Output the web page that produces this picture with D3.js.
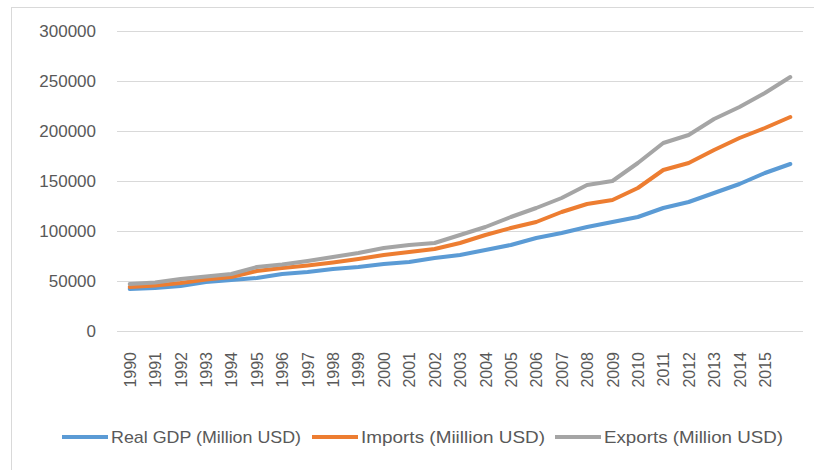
<!DOCTYPE html>
<html>
<head>
<meta charset="utf-8">
<script src="https://cdn.jsdelivr.net/npm/d3@7"></script>
<style>
  html, body { margin: 0; padding: 0; background: #fff; }
  svg { display: block; font-family: "Liberation Sans", Arial, sans-serif; }
</style>
</head>
<body>
<svg id="chart" width="814" height="470"></svg>
<script>
// Years on the category axis (the final point carries no label)
const years = ["1990","1991","1992","1993","1994","1995","1996","1997","1998","1999",
  "2000","2001","2002","2003","2004","2005","2006","2007","2008","2009",
  "2010","2011","2012","2013","2014","2015",""];

const realGdp = [42000,43000,45000,49000,51000,53000,57000,59000,62000,64000,
  67000,69000,73000,76000,81000,86000,93000,98000,104000,109000,
  114000,123000,129000,138000,147000,158000,167000];

const imports = [44000,45500,48000,51500,54000,60000,63000,65500,68500,72000,
  76000,79000,82000,88000,96000,103000,109000,119000,127000,131000,
  143000,161000,168000,181000,193000,203000,214000];

const exports_ = [47000,48500,52000,54500,57000,64000,66500,70000,74000,78000,
  83000,86000,88000,96000,104000,114000,123000,133000,146000,150000,
  168000,188000,196000,212000,224000,238000,254000];

const yTicks = [0,50000,100000,150000,200000,250000,300000];

const seriesNames = ["Real GDP (Million USD)", "Imports (Miillion USD)", "Exports (Million USD)"];
const seriesColors = ["#5b9bd5", "#ed7d31", "#a5a5a5"];
const seriesValues = [realGdp, imports, exports_];

const svg = d3.select("#chart");

// chart area frame
svg.append("rect")
  .attr("x", 11.5).attr("y", 7.5)
  .attr("width", 840).attr("height", 500)
  .attr("fill", "#fff")
  .attr("stroke", "#d9d9d9").attr("stroke-width", 1);

const x = d3.scalePoint().domain(d3.range(years.length)).range([117, 803]).padding(0.5);
const y = d3.scaleLinear().domain([0, 300000]).range([331, 31]);

// horizontal gridlines
svg.append("g").selectAll("line").data(yTicks).join("line")
  .attr("x1", 117).attr("x2", 803)
  .attr("y1", d => Math.round(y(d)) + 0.5)
  .attr("y2", d => Math.round(y(d)) + 0.5)
  .attr("stroke", "#d9d9d9").attr("stroke-width", 1);

// y axis labels
const yAxis = d3.axisLeft(y).tickValues(yTicks).tickSize(0).tickPadding(0).tickFormat(d3.format("d"));
const gy = svg.append("g").attr("transform", "translate(96,0)").call(yAxis);
gy.select(".domain").remove();
gy.selectAll("text")
  .attr("fill", "#595959")
  .style("font-size", "17px")
  .style("font-family", "'Liberation Sans', Arial, sans-serif");

// x axis labels, rotated
const xAxis = d3.axisBottom(x).tickSize(0).tickPadding(0).tickFormat(i => years[i]);
const gx = svg.append("g").attr("transform", "translate(0,352)").call(xAxis);
gx.select(".domain").remove();
gx.selectAll("text")
  .attr("transform", "rotate(-90)")
  .attr("x", 0).attr("y", 0).attr("dy", "0.35em")
  .attr("text-anchor", "end")
  .attr("fill", "#595959")
  .style("font-size", "16px")
  .style("font-family", "'Liberation Sans', Arial, sans-serif");
gx.selectAll(".tick").each(function() {
  const t = d3.select(this);
  const tr = t.attr("transform");
  const m = /translate\(([-\d.]+),([-\d.]+)\)/.exec(tr);
  t.attr("transform", `translate(${m[1]},0)`);
  t.select("text").attr("transform", "rotate(-90)").attr("x", 0).attr("y", 0);
});

// series lines
const line = d3.line().x((d, i) => x(i)).y(d => y(d));
svg.append("g").selectAll("path").data(seriesValues).join("path")
  .attr("d", line)
  .attr("fill", "none")
  .attr("stroke", (d, i) => seriesColors[i])
  .attr("stroke-width", 4)
  .attr("stroke-linejoin", "round")
  .attr("stroke-linecap", "round");

// legend
const legendItems = [
  { x: 62, w: 190 },
  { x: 312, w: 184 },
  { x: 555, w: 179 }
];
const lg = svg.append("g").attr("transform", "translate(0,437)");
const items = lg.selectAll("g").data(seriesNames).join("g")
  .attr("transform", (d, i) => `translate(${legendItems[i].x},0)`);
items.append("line")
  .attr("x1", 0).attr("x2", 46).attr("y1", 0).attr("y2", 0)
  .attr("stroke", (d, i) => seriesColors[i])
  .attr("stroke-width", 4);
items.append("text")
  .attr("x", 49).attr("y", 0).attr("dy", "0.35em")
  .attr("fill", "#595959")
  .style("font-size", "17px")
  .style("font-family", "'Liberation Sans Narrow', 'Liberation Sans', Arial, sans-serif")
  .attr("textLength", (d, i) => legendItems[i].w)
  .attr("lengthAdjust", "spacingAndGlyphs")
  .text(d => d);
</script>
</body>
</html>
